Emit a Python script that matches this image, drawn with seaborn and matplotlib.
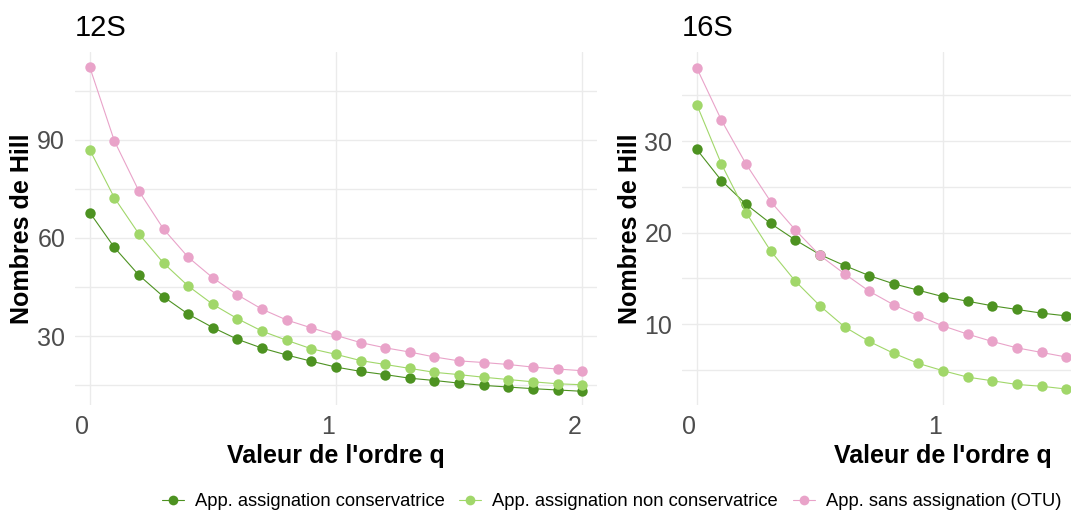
import pandas as pd
import seaborn as sns
import matplotlib.pyplot as plt
import matplotlib.transforms as mtransforms
from matplotlib.lines import Line2D
from matplotlib.ticker import MultipleLocator

# --- Data ---
q_12s = [0.0, 0.1, 0.2, 0.3, 0.4, 0.5, 0.6, 0.7, 0.8, 0.9, 1.0,
         1.1, 1.2, 1.3, 1.4, 1.5, 1.6, 1.7, 1.8, 1.9, 2.0]
cons_12s = [67.8, 57.1, 48.6, 42.0, 36.7, 32.6, 29.0, 26.3, 24.2, 22.3, 20.5,
            19.2, 18.2, 17.1, 16.4, 15.6, 14.9, 14.4, 13.9, 13.5, 13.1]
noncons_12s = [87.0, 72.3, 61.2, 52.3, 45.3, 39.7, 35.3, 31.5, 28.7, 26.1, 24.4,
               22.5, 21.3, 20.1, 18.9, 18.2, 17.4, 16.7, 16.0, 15.4, 15.1]
otu_12s = [112.3, 89.7, 74.3, 62.7, 54.1, 47.8, 42.6, 38.2, 34.9, 32.5, 30.2,
           28.0, 26.4, 25.1, 23.6, 22.4, 21.9, 21.3, 20.5, 19.9, 19.4]

q_16s = [0.0, 0.1, 0.2, 0.3, 0.4, 0.5, 0.6, 0.7, 0.8, 0.9, 1.0,
         1.1, 1.2, 1.3, 1.4, 1.5]
cons_16s = [29.1, 25.7, 23.1, 21.0, 19.2, 17.6, 16.4, 15.3, 14.4, 13.7, 13.0,
            12.5, 12.0, 11.6, 11.2, 10.9]
noncons_16s = [34.0, 27.5, 22.2, 18.0, 14.7, 12.0, 9.7, 8.1, 6.8, 5.7, 4.9,
               4.2, 3.8, 3.4, 3.2, 2.9]
otu_16s = [38.0, 32.3, 27.5, 23.4, 20.3, 17.5, 15.5, 13.6, 12.1, 10.9, 9.8,
           8.9, 8.1, 7.4, 6.9, 6.4]

methods = ["App. assignation conservatrice",
           "App. assignation non conservatrice",
           "App. sans assignation (OTU)"]
colors = ["#4d9221", "#a1d76a", "#e9a3c9"]


def long_df(q, series):
    parts = []
    for name, vals in zip(methods, series):
        parts.append(pd.DataFrame({"q": q, "hill": vals, "methode": name}))
    return pd.concat(parts, ignore_index=True)


df_12s = long_df(q_12s, [cons_12s, noncons_12s, otu_12s])
df_16s = long_df(q_16s, [cons_16s, noncons_16s, otu_16s])

# --- Style ---
sns.set_theme(style="whitegrid")
plt.rcParams["font.family"] = ["Liberation Sans", "DejaVu Sans"]

fig = plt.figure(figsize=(10.71, 5.11), dpi=100)
ax1 = fig.add_axes([0.0700, 0.2074, 0.4874, 0.6908])
# the 16S panel runs past the right edge of the picture, as in the reference
ax2 = fig.add_axes([0.6368, 0.2074, 0.4874, 0.6908])

panels = [
    (ax1, df_12s, "12S", (8.9, 116.9), 30, 15, [0, 1, 2]),
    (ax2, df_16s, "16S", (1.15, 39.75), 10, 5, [0, 1]),
]

for ax, df, title, ylim, ymaj, ymin, xticks in panels:
    sns.lineplot(data=df, x="q", y="hill", hue="methode", hue_order=methods,
                 palette=colors, marker="o", markersize=7.5, markeredgewidth=0,
                 linewidth=0.8, legend=False, ax=ax)
    ax.set_xlim(-0.06, 2.06)
    ax.set_ylim(*ylim)
    ax.set_xticks(xticks)
    ax.yaxis.set_major_locator(MultipleLocator(ymaj))
    ax.yaxis.set_minor_locator(MultipleLocator(ymin))
    ax.grid(which="major", color="#ebebeb", linewidth=1.0)
    ax.grid(which="minor", axis="y", color="#ebebeb", linewidth=1.0)
    ax.set_facecolor("white")
    for s in ax.spines.values():
        s.set_visible(False)
    ax.tick_params(axis="both", which="both", length=0, labelsize=18,
                   labelcolor="#4d4d4d")
    ax.tick_params(axis="x", pad=7)
    ax.tick_params(axis="y", pad=7)
    shift = mtransforms.ScaledTranslation(-8 / 100, 0, fig.dpi_scale_trans)
    for lab in ax.get_xticklabels():
        lab.set_transform(lab.get_transform() + shift)
    ax.set_xlabel("Valeur de l'ordre q", fontsize=18, fontweight="bold",
                  labelpad=4, color="black")
    ax.set_ylabel("Nombres de Hill", fontsize=18, fontweight="bold",
                  labelpad=2, color="black")
    ax.set_title(title, loc="left", fontsize=21, pad=11.5, color="black")

# --- Shared legend at the bottom ---
handles = [Line2D([], [], color=c, marker="o", markersize=7,
                  markeredgewidth=0, linewidth=0.8) for c in colors]
leg = fig.legend(handles, methods, loc="center", bbox_to_anchor=(0.571, 0.018),
                 ncol=3, frameon=False, fontsize=13.2, handlelength=1.2,
                 handletextpad=0.6, columnspacing=0.8)
for t in leg.get_texts():
    t.set_color("black")

fig.savefig("out.png", dpi=100)
